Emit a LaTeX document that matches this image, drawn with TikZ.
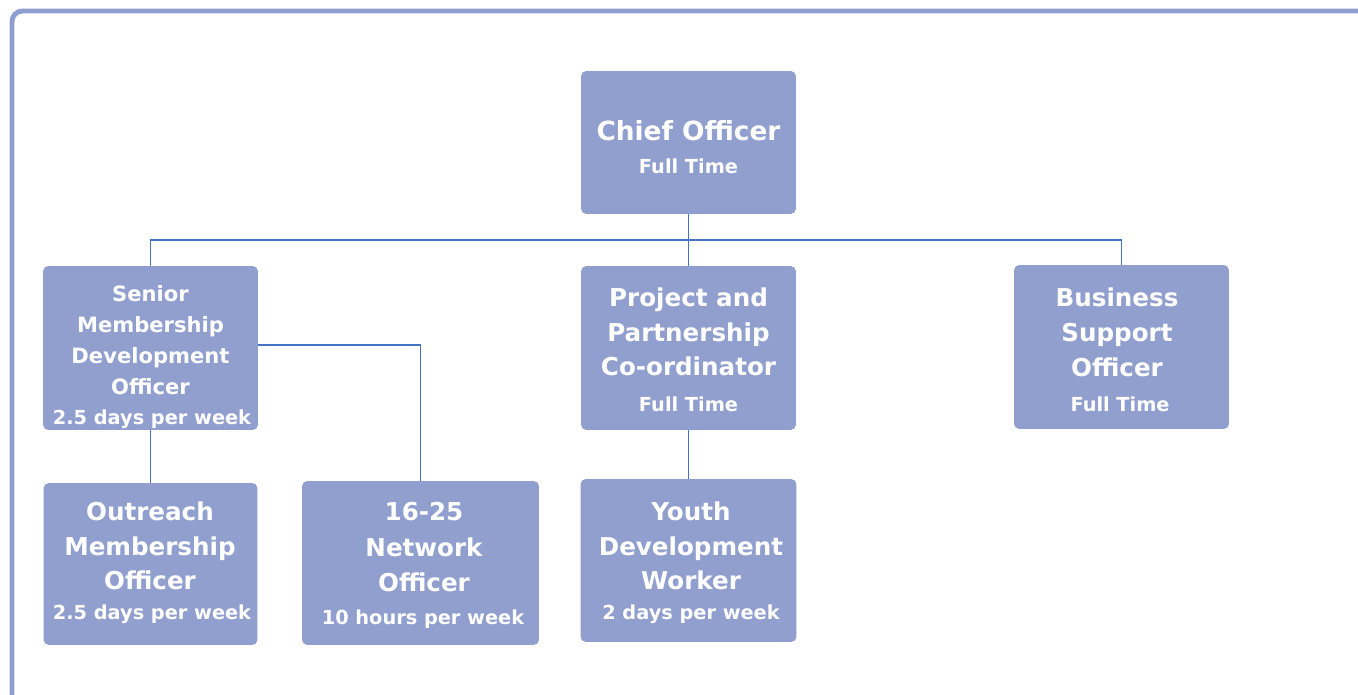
\documentclass[tikz,border=0pt]{standalone}
\usepackage{fontspec}
\setmainfont{DejaVu Sans}
\definecolor{boxblue}{HTML}{919FCF}
\definecolor{frameblue}{HTML}{8E9ED0}
\definecolor{linkblue}{HTML}{4472C4}
\tikzset{
  post/.style={fill=boxblue, rounded corners=3pt, inner sep=0pt},
  role/.style={text=white, align=center, inner sep=0pt, font=\bfseries\fontsize{14}{19.8}\selectfont},
  hours/.style={text=white, inner sep=0pt, font=\bfseries\fontsize{11}{12}\selectfont},
  link/.style={linkblue, line width=0.6pt}
}
\begin{document}
\begin{tikzpicture}[x=0.02cm, y=-0.02cm]
  \useasboundingbox (0,0) rectangle (1358,695);
  \draw[frameblue, line width=2.8pt, rounded corners=6pt] (12,11) rectangle (1390,730);

  \node[post, minimum width=4.3cm, minimum height=2.86cm] (chief) at (688.5,142.5) {};
  \node[post, minimum width=4.3cm, minimum height=3.28cm] (senior) at (150.5,348) {};
  \node[post, minimum width=4.3cm, minimum height=3.28cm] (project) at (688.5,348) {};
  \node[post, minimum width=4.3cm, minimum height=3.28cm] (business) at (1121.5,347) {};
  \node[post, minimum width=4.28cm, minimum height=3.24cm] (outreach) at (150.5,564) {};
  \node[post, minimum width=4.74cm, minimum height=3.28cm] (network) at (420.5,563) {};
  \node[post, minimum width=4.32cm, minimum height=3.26cm] (youth) at (688.5,560.5) {};

  \node[role, font=\bfseries\fontsize{15}{18}\selectfont] (chief-role) at (688.5,131) {Chief Officer};
  \node[hours] (chief-hours) at (688.5,166) {Full Time};
  \node[role, font=\bfseries\fontsize{12}{17.6}\selectfont] (senior-role) at (150.5,340) {Senior\\Membership\\Development\\Officer};
  \node[hours] (senior-hours) at (152,419) {2.5 days per week};
  \node[role] (project-role) at (688.5,332) {Project and\\Partnership\\Co-ordinator};
  \node[hours] (project-hours) at (688.5,404) {Full Time};
  \node[role] (business-role) at (1117,332.5) {Business\\Support\\Officer};
  \node[hours] (business-hours) at (1120,404) {Full Time};
  \node[role] (outreach-role) at (150,546) {Outreach\\Membership\\Officer};
  \node[hours] (outreach-hours) at (152,614) {2.5 days per week};
  \node[role, font=\bfseries\fontsize{14}{20.2}\selectfont] (network-role) at (424,547.5) {16-25\\Network\\Officer};
  \node[hours] (network-hours) at (423,619) {10 hours per week};
  \node[role] (youth-role) at (691,546) {Youth\\Development\\Worker};
  \node[hours] (youth-hours) at (691,614) {2 days per week};

  \coordinate (bus) at (688.5,240);
  \draw[link] (chief.south) -- (bus);
  \draw[link] (senior.north) |- (bus) -| (business.north);
  \draw[link] (bus) -- (project.north);
  \draw[link] ([yshift=1.7pt]senior.east) -| (network.north);
  \draw[link] (senior.south) -- (outreach.north);
  \draw[link] (project.south) -- (youth.north);
\end{tikzpicture}
\end{document}
